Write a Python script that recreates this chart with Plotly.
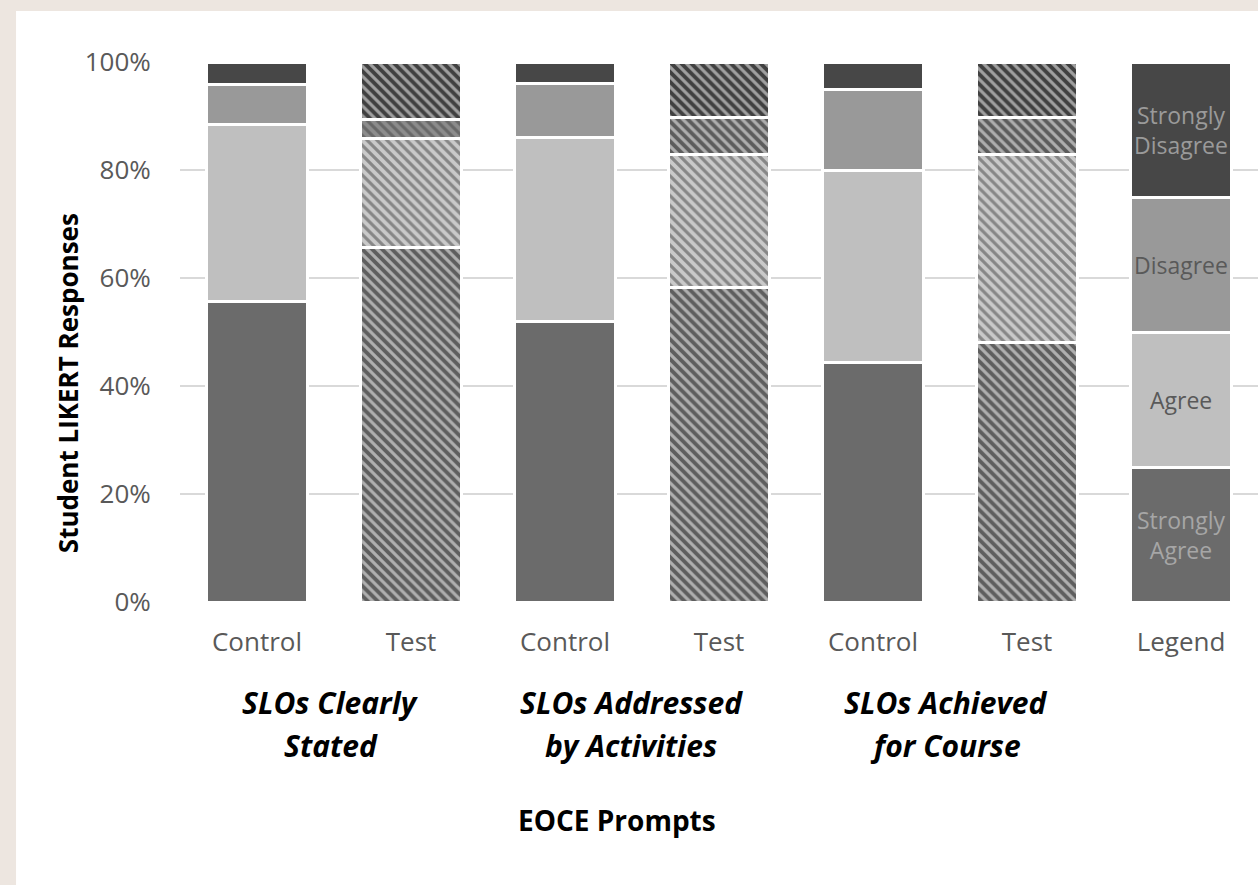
import plotly.graph_objects as go

# ---- data ----
bar_labels = ["Control", "Test", "Control", "Test", "Control", "Test", "Legend"]
group_labels = [("SLOs Clearly", "Stated"), ("SLOs Addressed", "by Activities"), ("SLOs Achieved", "for Course")]
strongly_agree = [55.6, 65.6, 51.9, 58.3, 44.3, 48.1, 25]
agree = [32.9, 20.3, 34.2, 24.5, 35.7, 34.7, 25]
disagree = [7.4, 3.5, 10.0, 7.0, 15.0, 7.0, 25]
strongly_disagree = [4.1, 10.6, 3.9, 10.2, 5.0, 10.2, 25]
legend_texts = ["Strongly<br>Agree", "Agree", "Disagree", "Strongly<br>Disagree"]
y_ticks = [0, 20, 40, 60, 80, 100]
y_tick_labels = ["0%", "20%", "40%", "60%", "80%", "100%"]

# ---- styling ----
FONT = "Open Sans"
GREY_TXT = "#595959"
x = list(range(len(bar_labels)))
hatch = ["", "\\", "", "\\", "", "\\", ""]

series = [
    ("Strongly Agree", strongly_agree,
     ["#6b6b6b", "#5e5e5e", "#6b6b6b", "#5e5e5e", "#6b6b6b", "#5e5e5e", "#6b6b6b"],
     ["#6b6b6b", "#767676", "#6b6b6b", "#767676", "#6b6b6b", "#767676", "#6b6b6b"]),
    ("Agree", agree,
     ["#bfbfbf", "#c9c9c9", "#bfbfbf", "#c9c9c9", "#bfbfbf", "#c9c9c9", "#bfbfbf"],
     ["#bfbfbf", "#acacac", "#bfbfbf", "#acacac", "#bfbfbf", "#acacac", "#bfbfbf"]),
    ("Disagree", disagree,
     ["#999999", "#8c8c8c", "#999999", "#5c5c5c", "#999999", "#5c5c5c", "#999999"],
     ["#999999", "#a2a2a2", "#999999", "#6f6f6f", "#999999", "#6f6f6f", "#999999"]),
    ("Strongly Disagree", strongly_disagree,
     ["#474747", "#404040", "#474747", "#404040", "#474747", "#404040", "#474747"],
     ["#474747", "#5c5c5c", "#474747", "#5c5c5c", "#474747", "#5c5c5c", "#474747"]),
]

fig = go.Figure()
for name, vals, bg, fg in series:
    fig.add_trace(go.Bar(
        x=x, y=vals, name=name,
        marker=dict(
            color=bg,
            line=dict(color="white", width=3),
            pattern=dict(shape=hatch, fgcolor=fg, bgcolor=bg, size=7, solidity=0.45),
        ),
        showlegend=False,
    ))

# legend labels inside the "Legend" bar
cum = 0
legend_colors = ["#a6a6a6", "#595959", "#595959", "#9a9a9a"]
legend_vals = [strongly_agree[-1], agree[-1], disagree[-1], strongly_disagree[-1]]
for txt, v, c in zip(legend_texts, legend_vals, legend_colors):
    fig.add_annotation(x=6, y=cum + v / 2, xref="x", yref="y", text=txt, showarrow=False,
                       xanchor="center", yanchor="middle",
                       font=dict(family=FONT, size=23, color=c))
    cum += v

# group labels
group_x = [0.48, 2.43, 4.47]
for gx, (l1, l2) in zip(group_x, group_labels):
    fig.add_annotation(x=gx, y=-0.187, xref="x", yref="paper", text=f"<b><i>{l1}</i></b>",
                       showarrow=False, xanchor="center", yanchor="middle",
                       font=dict(family=FONT, size=30, color="black"))
    fig.add_annotation(x=gx, y=-0.266, xref="x", yref="paper", text=f"<b><i>{l2}</i></b>",
                       showarrow=False, xanchor="center", yanchor="middle",
                       font=dict(family=FONT, size=30, color="black"))

fig.add_annotation(x=2.34, y=-0.404, xref="x", yref="paper", text="<b>EOCE Prompts</b>",
                   showarrow=False, xanchor="center", yanchor="middle",
                   font=dict(family=FONT, size=28, color="black"))
fig.add_annotation(x=-0.104, y=0.405, xref="paper", yref="paper", text="<b>Student LIKERT Responses</b>",
                   textangle=-90, showarrow=False, xanchor="center", yanchor="middle",
                   font=dict(family=FONT, size=26, color="black"))

# white card on beige background
fig.add_shape(type="rect", xref="paper", yref="paper", x0=-0.1521, x1=1.05, y0=-0.6, y1=1.0944,
              fillcolor="white", line=dict(width=0), layer="below")

fig.update_layout(
    width=1258, height=885,
    margin=dict(l=180, r=0, t=62, b=283),
    barmode="stack", bargap=0.34,
    paper_bgcolor="#ede6e0", plot_bgcolor="white",
    font=dict(family=FONT, color=GREY_TXT),
    xaxis=dict(tickmode="array", tickvals=x, ticktext=bar_labels, range=[-0.5, 6.5],
               showgrid=False, zeroline=False, showline=False,
               ticks="outside", ticklen=17, tickcolor="rgba(0,0,0,0)",
               tickfont=dict(family=FONT, size=26, color=GREY_TXT)),
    yaxis=dict(range=[0, 100], tickmode="array", tickvals=y_ticks, ticktext=y_tick_labels,
               showgrid=True, gridcolor="#d9d9d9", gridwidth=2, zeroline=False, showline=False,
               ticks="outside", ticklen=23, tickcolor="rgba(0,0,0,0)",
               tickfont=dict(family=FONT, size=26, color=GREY_TXT)),
)

fig.write_html("out.html")
